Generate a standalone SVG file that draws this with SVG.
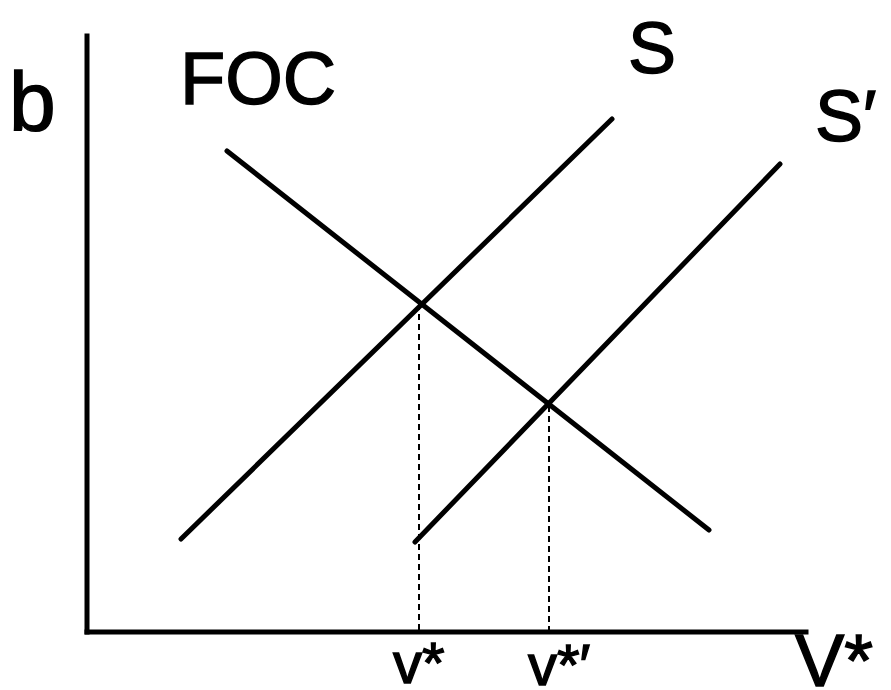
<svg xmlns="http://www.w3.org/2000/svg" width="891" height="690" viewBox="0 0 891 690">
<style>
.ax{stroke:#000;stroke-width:5;fill:none;stroke-linecap:square}
.ln{stroke:#000;stroke-width:5;fill:none;stroke-linecap:round}
.ds{stroke:#000;stroke-width:2;fill:none;stroke-dasharray:6,4}
text{font-family:"Liberation Sans",Arial,sans-serif;fill:#000;stroke:#000;stroke-width:1.4}
</style>
<rect width="891" height="690" fill="#fff"/>
<g id="axes">
<line class="ax" x1="87" y1="36" x2="87" y2="632"/>
<line class="ax" x1="87" y1="632" x2="806" y2="632"/>
</g>
<g id="connectors">
<line class="ln" x1="227" y1="151" x2="709" y2="530"/>
<line class="ln" x1="181" y1="539" x2="612" y2="119"/>
<line class="ln" x1="415" y1="542" x2="780" y2="164"/>
<line class="ds" x1="419" y1="304" x2="419" y2="630"/>
<line class="ds" x1="549" y1="406" x2="549" y2="630"/>
</g>
<g id="labels">
<text x="9" y="131" font-size="84">b</text>
<text x="180" y="104" font-size="74">FOC</text>
<text x="628" y="73" font-size="72">S</text>
<text x="815" y="141" font-size="72">S′</text>
<text x="393" y="683" font-size="58">v*</text>
<text x="528" y="685" font-size="58">v*′</text>
<text x="795" y="686" font-size="74">V*</text>
</g>
</svg>
